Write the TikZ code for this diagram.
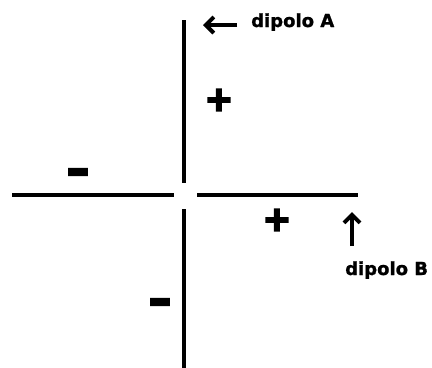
\documentclass[tikz,border=0pt]{standalone}
\usepackage{fontspec}
\usepackage{graphicx}
\usetikzlibrary{arrows.meta}
\newfontfamily\lblfont[FakeBold=1.2]{DejaVu Sans Bold}
\newfontfamily\signfont[FakeBold=4]{DejaVu Sans Bold}
\newfontfamily\plusfont[FakeBold=6]{DejaVu Sans Bold}
\begin{document}
\begin{tikzpicture}[x=1bp,y=-1bp,
  axis/.style={line width=3.5bp},
  pointer/.style={line width=3.5bp,-{Straight Barb[length=8bp,width=16bp,line width=4bp]}},
  lbl/.style={font=\lblfont\fontsize{18bp}{20bp}\selectfont,inner sep=0pt,anchor=base west},
  sign/.style={font=\plusfont\fontsize{34bp}{36bp}\selectfont,inner sep=0pt},
  minus/.style={font=\signfont\fontsize{30bp}{32bp}\selectfont,inner sep=0pt,anchor=base}]
\useasboundingbox (0,0) rectangle (432,368);
% axes
\coordinate (vt1) at (184,20);
\coordinate (vt2) at (184,183);
\coordinate (vb1) at (184,209);
\coordinate (vb2) at (184,368);
\coordinate (hl1) at (12,195);
\coordinate (hl2) at (174,195);
\coordinate (hr1) at (197,195);
\coordinate (hr2) at (358,195);
\draw[axis] (vt1) -- (vt2);
\draw[axis] (vb1) -- (vb2);
\draw[axis] (hl1) -- (hl2);
\draw[axis] (hr1) -- (hr2);
% labels
\node[lbl] (dA) at (251,27) {dipolo A};
\node[lbl] (dB) at (345,275) {dipolo B};
% arrows
\coordinate (aAt) at (237,25);
\coordinate (aAh) at (203,25);
\coordinate (aBt) at (352,246);
\coordinate (aBh) at (352,212);
\draw[pointer] (aAt) -- (aAh);
\draw[pointer] (aBt) -- (aBh);
% signs
\node[sign] (pA) at (219,100) {+};
\node[sign] (pB) at (277,220) {+};
\node[minus] (mA) at (78,185) {\scalebox{1.9}[1.5]{-}};
\node[minus] (mB) at (160,315) {\scalebox{1.9}[1.5]{-}};
\end{tikzpicture}
\end{document}
